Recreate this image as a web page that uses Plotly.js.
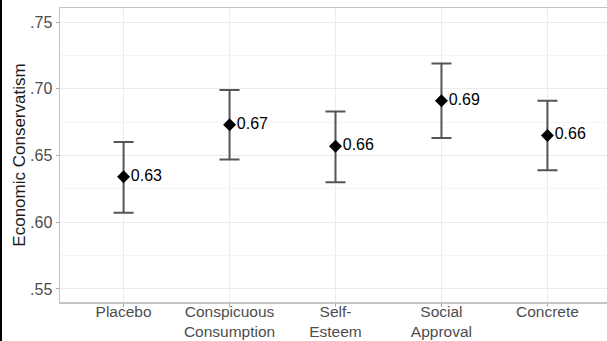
<!DOCTYPE html>
<html>
<head>
<meta charset="utf-8">
<script src="https://cdn.plot.ly/plotly-3.0.1.min.js"></script>
<style>
html, body { margin:0; padding:0; overflow:hidden; background:#fff; }
#chart { width:612px; height:341px; }
#frame { position:absolute; left:0; top:0; width:2px; height:341px; background:#000; }
</style>
</head>
<body>
<div id="chart"></div>
<div id="frame"></div>
<script>
const categories = ['Placebo', 'Conspicuous<br>Consumption', 'Self-<br>Esteem', 'Social<br>Approval', 'Concrete'];
const means = [0.634, 0.673, 0.657, 0.691, 0.665];
const lower = [0.607, 0.647, 0.630, 0.663, 0.639];
const upper = [0.660, 0.699, 0.683, 0.719, 0.691];
const labels = ['0.63', '0.67', '0.66', '0.69', '0.66'];
const yTickVals = [0.55, 0.60, 0.65, 0.70, 0.75];
const yTickText = ['.55', '.60', '.65', '.70', '.75'];

const trace = {
  type: 'scatter',
  mode: 'markers+text',
  x: categories,
  y: means,
  text: labels,
  textposition: 'middle right',
  textfont: {family: 'Liberation Sans, Arial, sans-serif', size: 16, color: '#000'},
  marker: {symbol: 'diamond', size: 10, color: '#000'},
  error_y: {
    type: 'data',
    symmetric: false,
    array: upper.map((u, i) => u - means[i]),
    arrayminus: lower.map((l, i) => means[i] - l),
    color: '#555555',
    thickness: 2,
    width: 10
  },
  cliponaxis: false,
  hoverinfo: 'skip'
};

const layout = {
  width: 612,
  height: 341,
  margin: {l: 60, r: 1, t: 8, b: 39},
  paper_bgcolor: '#fff',
  plot_bgcolor: '#fff',
  showlegend: false,
  font: {family: 'Liberation Sans, Arial, sans-serif', size: 16, color: '#4d4d4d'},
  xaxis: {
    type: 'category',
    range: [-0.6, 4.6],
    showgrid: true,
    gridcolor: '#ebebeb',
    gridwidth: 1,
    zeroline: false,
    showline: true,
    linecolor: '#c4c4c4',
    linewidth: 1.5,
    mirror: true,
    ticks: 'outside',
    ticklen: 3,
    tickcolor: '#aaaaaa',
    ticklabelstandoff: -8,
    tickfont: {size: 15.5, color: '#4d4d4d'}
  },
  yaxis: {
    range: [0.5402, 0.7605],
    tickvals: yTickVals,
    ticktext: yTickText,
    showgrid: true,
    gridcolor: '#ebebeb',
    gridwidth: 1,
    minor: {dtick: 0.025, tick0: 0.525, showgrid: true, gridcolor: '#f5f5f5', ticks: ''},
    zeroline: false,
    showline: true,
    linecolor: '#c4c4c4',
    linewidth: 1.5,
    mirror: true,
    ticks: 'outside',
    ticklen: 3,
    tickcolor: '#aaaaaa',
    tickfont: {size: 16, color: '#4d4d4d'},
    title: {text: 'Economic Conservatism', font: {size: 17, color: '#1a1a1a'}, standoff: 0}
  }
};

Plotly.newPlot('chart', [trace], layout, {staticPlot: true, displayModeBar: false});
</script>
</body>
</html>
